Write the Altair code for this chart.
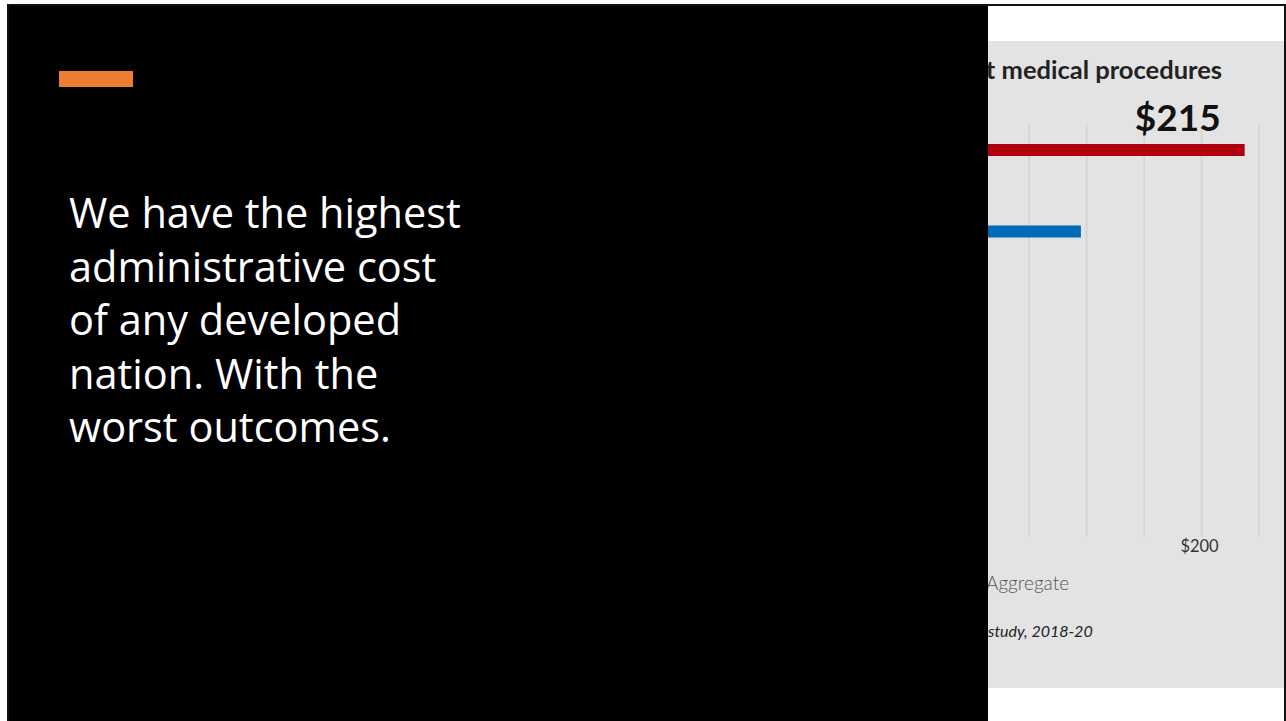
import altair as alt
import pandas as pd

# ---- data ----
countries = ["United States", "Comparison"]
values = [215, 158]
bar_colors = ["#b0000f", "#006bb6"]
value_labels = ["$215", ""]

grid_values = [0, 20, 40, 60, 80, 100, 120, 140, 160, 180, 200, 220]
tick_values = [0, 100, 200]
tick_labels = ["$0", "$100", "$200"]

title_text = "t medical procedures"
legend_text = "Aggregate"
source_text = "study, 2018-20"

slide_lines = [
    "We have the highest",
    "administrative cost",
    "of any developed",
    "nation. With the",
    "worst outcomes.",
]

W, H = 1286, 721
xscale = alt.Scale(domain=[0, 220], range=[627, 1259])
yscale = alt.Scale(type="point", domain=countries, range=[150, 231.5], padding=0)
cscale = alt.Scale(domain=countries, range=bar_colors)

one = pd.DataFrame({"a": [0]})
bars_df = pd.DataFrame({"country": countries, "value": values, "label": value_labels})
grid_df = pd.DataFrame({"value": grid_values})
ticks_df = pd.DataFrame({"value": tick_values, "label": tick_labels})

base1 = alt.Chart(one)

gray = base1.mark_rect(color="#e3e3e3").encode(
    x=alt.value(988), x2=alt.value(1285), y=alt.value(41), y2=alt.value(688)
)

grid = alt.Chart(grid_df).mark_rule(color="#d2d2d2", strokeWidth=1.5).encode(
    x=alt.X("value:Q", scale=xscale, axis=None),
    y=alt.value(125), y2=alt.value(537),
)

bars = alt.Chart(bars_df).mark_bar(size=12).encode(
    x=alt.X("value:Q", scale=xscale, axis=None),
    y=alt.Y("country:N", scale=yscale, axis=None),
    color=alt.Color("country:N", scale=cscale, legend=None),
)

vlabel = alt.Chart(bars_df).mark_text(
    align="right", baseline="alphabetic", dx=-24, dy=-19,
    fontSize=37, fontWeight="bold", font="Lato", color="#111111",
).encode(
    x=alt.X("value:Q", scale=xscale, axis=None),
    y=alt.Y("country:N", scale=yscale, axis=None),
    text="label:N",
)

ticks = alt.Chart(ticks_df).mark_text(
    align="center", baseline="middle", fontSize=16.5, font="Lato", color="#333333", dx=-2
).encode(
    x=alt.X("value:Q", scale=xscale, axis=None),
    y=alt.value(547),
    text="label:N",
)

title = base1.mark_text(
    align="right", baseline="alphabetic", fontSize=25.5, fontWeight="bold",
    font="Lato", color="#222222", text=title_text,
).encode(x=alt.value(1222), y=alt.value(79))

legend = base1.mark_text(
    align="left", baseline="alphabetic", fontSize=19, fontWeight=300,
    font="Lato", color="#555555", text=legend_text,
).encode(x=alt.value(986), y=alt.value(590))

source = base1.mark_text(
    align="left", baseline="alphabetic", fontSize=16, fontStyle="italic",
    font="Lato", color="#222222", text=source_text,
).encode(x=alt.value(988), y=alt.value(637))

black = base1.mark_rect(color="#000000").encode(
    x=alt.value(8), x2=alt.value(988), y=alt.value(5), y2=alt.value(721)
)

orange = base1.mark_rect(color="#ed7d31").encode(
    x=alt.value(59), x2=alt.value(133), y=alt.value(71), y2=alt.value(87)
)

slide_df = pd.DataFrame({"t": ["\n".join(slide_lines)]})
slide_text = alt.Chart(slide_df).mark_text(
    align="left", baseline="alphabetic", lineBreak="\n", lineHeight=53.5,
    fontSize=41.5, font="Open Sans", color="#ffffff",
).encode(x=alt.value(69), y=alt.value(228), text="t:N")

border = base1.mark_rect(fill=None, stroke="#111111", strokeWidth=2).encode(
    x=alt.value(8), x2=alt.value(1285), y=alt.value(5), y2=alt.value(722)
)

chart = alt.layer(
    gray, grid, bars, vlabel, ticks, title, legend, source,
    black, orange, slide_text, border,
).properties(
    width=W, height=H, background="#ffffff", padding=0,
    autosize=alt.AutoSizeParams(type="none"),
).configure_view(stroke=None)

chart.save("out.html", embed_options={"renderer": "svg", "actions": False})
